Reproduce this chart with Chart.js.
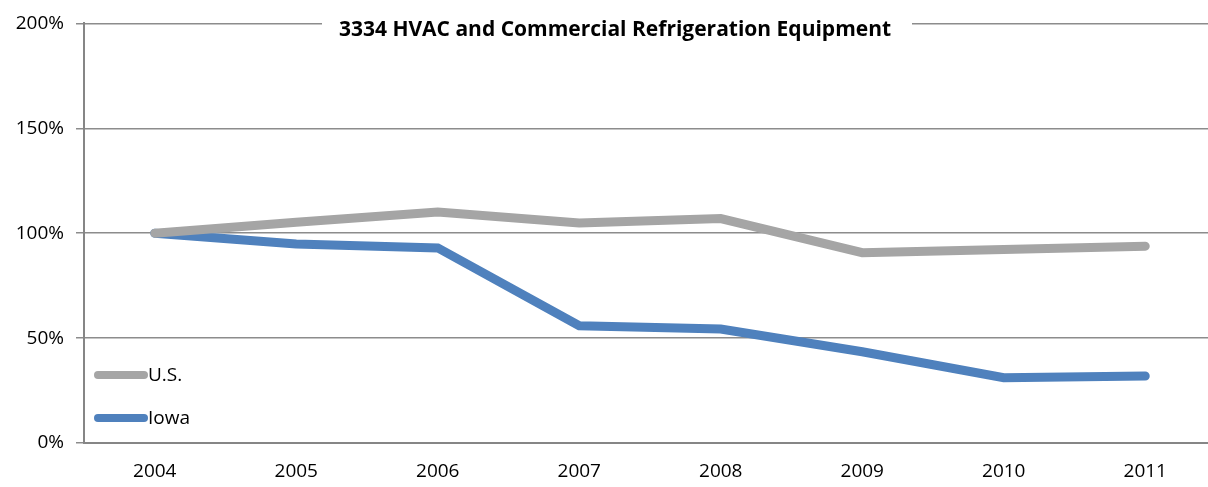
<!DOCTYPE html>
<html>
<head>
<meta charset="utf-8">
<script src="https://cdn.jsdelivr.net/npm/chart.js@4/dist/chart.umd.min.js"></script>
<style>
  html, body { margin: 0; padding: 0; background: #fff; overflow: hidden; }
  #wrap { width: 1220px; height: 487px; }
</style>
</head>
<body>
<div id="wrap"><canvas id="chart" width="1220" height="487"></canvas></div>
<script>
// data
var years = ['2004', '2005', '2006', '2007', '2008', '2009', '2010', '2011'];
var usValues = [1.00, 1.052, 1.101, 1.049, 1.070, 0.907, 0.922, 0.938];
var iowaValues = [1.00, 0.948, 0.930, 0.559, 0.543, 0.435, 0.311, 0.319];
var chartTitle = '3334 HVAC and Commercial Refrigeration Equipment';

var FONT = '"Open Sans", "Noto Sans", sans-serif';

// title with white box over the top gridline + legend inside plot
var overlay = {
  id: 'overlay',
  afterDraw: function (chart) {
    var ctx = chart.ctx;
    ctx.save();
    // size the title so it spans about the same width as the original
    var size = 17;
    ctx.font = 'bold ' + size + 'px ' + FONT;
    size = Math.min(21, size * 574 / ctx.measureText(chartTitle).width);
    ctx.font = 'bold ' + size.toFixed(1) + 'px ' + FONT;
    ctx.textAlign = 'center';
    ctx.textBaseline = 'middle';
    ctx.fillStyle = '#fff';
    ctx.fillRect(322, 10, 590, 34);
    ctx.fillStyle = '#000';
    ctx.fillText(chartTitle, 615, 30);

    // legend
    var items = chart.data.datasets;
    var rows = [375, 418];
    ctx.font = '19px ' + FONT;
    ctx.textAlign = 'left';
    items.forEach(function (ds, i) {
      var y = rows[i];
      ctx.strokeStyle = ds.borderColor;
      ctx.lineWidth = 8;
      ctx.lineCap = 'round';
      ctx.beginPath();
      ctx.moveTo(98, y);
      ctx.lineTo(144, y);
      ctx.stroke();
      ctx.fillStyle = '#000';
      ctx.fillText(ds.label, 148, y + 1);
    });
    ctx.restore();
  }
};

new Chart(document.getElementById('chart').getContext('2d'), {
  type: 'line',
  data: {
    labels: years,
    datasets: [
      { label: 'U.S.', data: usValues, borderColor: '#A5A5A5', borderWidth: 9, pointRadius: 0, borderCapStyle: 'round', borderJoinStyle: 'miter' },
      { label: 'Iowa', data: iowaValues, borderColor: '#4F81BD', borderWidth: 9, pointRadius: 0, borderCapStyle: 'round', borderJoinStyle: 'miter' }
    ]
  },
  options: {
    responsive: false,
    animation: false,
    layout: { padding: { top: 21, left: 0, right: 4, bottom: 0 } },
    plugins: { legend: { display: false }, title: { display: false }, tooltip: { enabled: false } },
    scales: {
      x: {
        offset: true,
        grid: { display: false },
        border: { color: '#868686', width: 2 },
        ticks: { color: '#000', font: { family: FONT, size: 19 }, padding: 9 },
        afterFit: function (s) { s.height = 44; }
      },
      y: {
        min: 0,
        max: 2,
        ticks: {
          stepSize: 0.5,
          color: '#000',
          font: { family: FONT, size: 19 },
          padding: 12,
          callback: function (v) { return Math.round(v * 100) + '%'; }
        },
        grid: { color: '#8C8C8C', lineWidth: 1.5, tickLength: 8, drawTicks: true },
        border: { color: '#868686', width: 2 },
        afterFit: function (s) { s.width = 84; }
      }
    }
  },
  plugins: [overlay]
});
</script>
</body>
</html>
